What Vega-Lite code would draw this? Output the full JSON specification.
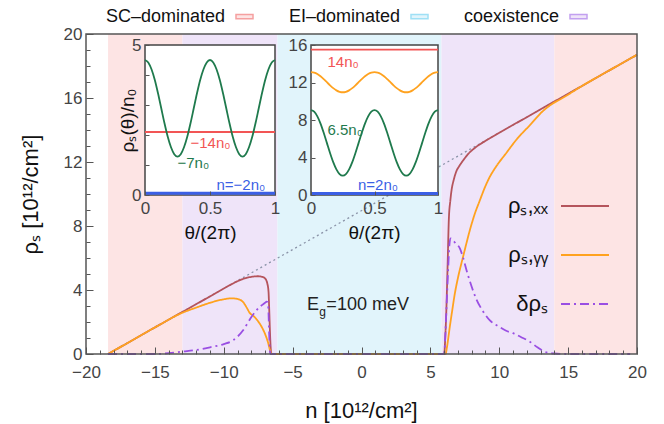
{
  "$schema": "https://vega.github.io/schema/vega-lite/v6.json",
  "width": 551,
  "height": 320,
  "autosize": {"type": "none"},
  "padding": {"left": 86, "top": 34, "right": 27, "bottom": 70},
  "background": "white",
  "config": {
    "font": "Liberation Sans",
    "view": {"stroke": null},
    "axis": {"labelColor": "#444", "tickColor": "#555", "tickWidth": 1, "titleColor": "#111", "titleFontWeight": "normal", "grid": false, "domain": false, "labelFlush": false, "labelOverlap": false, "labelFont": "Liberation Sans", "titleFont": "Liberation Sans", "zindex": 1},
    "legend": {"padding": 0, "labelFont": "Liberation Sans", "labelColor": "#111"}
  },
  "datasets": {
    "phases": [
      {"phase": "SC–dominated", "n0": -18.4, "n1": -13},
      {"phase": "coexistence", "n0": -13, "n1": -6.1},
      {"phase": "EI–dominated", "n0": -6.1, "n1": 5.8},
      {"phase": "coexistence", "n0": 5.8, "n1": 14},
      {"phase": "SC–dominated", "n0": 14, "n1": 20}
    ],
    "diag": [{"n": -18.4, "rho": 0}, {"n": 20, "rho": 18.7}],
    "series": [
      {"s": "ρₛ,ₓₓ", "n": -18.4, "rho": 0}, {"s": "ρₛ,ₓₓ", "n": -17, "rho": 0.68}, {"s": "ρₛ,ₓₓ", "n": -15, "rho": 1.66}, {"s": "ρₛ,ₓₓ", "n": -13, "rho": 2.63}, {"s": "ρₛ,ₓₓ", "n": -11, "rho": 3.6}, {"s": "ρₛ,ₓₓ", "n": -10, "rho": 4.09}, {"s": "ρₛ,ₓₓ", "n": -9.5, "rho": 4.33}, {"s": "ρₛ,ₓₓ", "n": -9, "rho": 4.55}, {"s": "ρₛ,ₓₓ", "n": -8.5, "rho": 4.72}, {"s": "ρₛ,ₓₓ", "n": -8, "rho": 4.82}, {"s": "ρₛ,ₓₓ", "n": -7.5, "rho": 4.86}, {"s": "ρₛ,ₓₓ", "n": -7.2, "rho": 4.82}, {"s": "ρₛ,ₓₓ", "n": -7, "rho": 4.72}, {"s": "ρₛ,ₓₓ", "n": -6.85, "rho": 4.45}, {"s": "ρₛ,ₓₓ", "n": -6.75, "rho": 3.9}, {"s": "ρₛ,ₓₓ", "n": -6.7, "rho": 2.8}, {"s": "ρₛ,ₓₓ", "n": -6.65, "rho": 1.5}, {"s": "ρₛ,ₓₓ", "n": -6.6, "rho": 0.5}, {"s": "ρₛ,ₓₓ", "n": -6.55, "rho": 0.05}, {"s": "ρₛ,ₓₓ", "n": -6.5, "rho": 0}, {"s": "ρₛ,ₓₓ", "n": 6.0, "rho": 0}, {"s": "ρₛ,ₓₓ", "n": 6.08, "rho": 1.0}, {"s": "ρₛ,ₓₓ", "n": 6.15, "rho": 2.5}, {"s": "ρₛ,ₓₓ", "n": 6.25, "rho": 5.5}, {"s": "ρₛ,ₓₓ", "n": 6.34, "rho": 8.4}, {"s": "ρₛ,ₓₓ", "n": 6.45, "rho": 9.6}, {"s": "ρₛ,ₓₓ", "n": 6.54, "rho": 10.25}, {"s": "ρₛ,ₓₓ", "n": 6.7, "rho": 10.9}, {"s": "ρₛ,ₓₓ", "n": 6.9, "rho": 11.45}, {"s": "ρₛ,ₓₓ", "n": 7.1, "rho": 11.75}, {"s": "ρₛ,ₓₓ", "n": 7.38, "rho": 12.1}, {"s": "ρₛ,ₓₓ", "n": 7.8, "rho": 12.55}, {"s": "ρₛ,ₓₓ", "n": 8.35, "rho": 12.96}, {"s": "ρₛ,ₓₓ", "n": 9, "rho": 13.32}, {"s": "ρₛ,ₓₓ", "n": 10, "rho": 13.83}, {"s": "ρₛ,ₓₓ", "n": 12, "rho": 14.8}, {"s": "ρₛ,ₓₓ", "n": 14, "rho": 15.78}, {"s": "ρₛ,ₓₓ", "n": 16, "rho": 16.75}, {"s": "ρₛ,ₓₓ", "n": 18, "rho": 17.73}, {"s": "ρₛ,ₓₓ", "n": 20, "rho": 18.7},
      {"s": "ρₛ,ᵧᵧ", "n": -18.4, "rho": 0}, {"s": "ρₛ,ᵧᵧ", "n": -17, "rho": 0.68}, {"s": "ρₛ,ᵧᵧ", "n": -15, "rho": 1.66}, {"s": "ρₛ,ᵧᵧ", "n": -13, "rho": 2.58}, {"s": "ρₛ,ᵧᵧ", "n": -12, "rho": 2.9}, {"s": "ρₛ,ᵧᵧ", "n": -11, "rho": 3.2}, {"s": "ρₛ,ᵧᵧ", "n": -10, "rho": 3.42}, {"s": "ρₛ,ᵧᵧ", "n": -9.4, "rho": 3.48}, {"s": "ρₛ,ᵧᵧ", "n": -9, "rho": 3.44}, {"s": "ρₛ,ᵧᵧ", "n": -8.6, "rho": 3.25}, {"s": "ρₛ,ᵧᵧ", "n": -8.3, "rho": 2.85}, {"s": "ρₛ,ᵧᵧ", "n": -8.1, "rho": 2.55}, {"s": "ρₛ,ᵧᵧ", "n": -7.95, "rho": 2.45}, {"s": "ρₛ,ᵧᵧ", "n": -7.6, "rho": 2.15}, {"s": "ρₛ,ᵧᵧ", "n": -7.25, "rho": 1.7}, {"s": "ρₛ,ᵧᵧ", "n": -7.0, "rho": 1.25}, {"s": "ρₛ,ᵧᵧ", "n": -6.77, "rho": 0.67}, {"s": "ρₛ,ᵧᵧ", "n": -6.65, "rho": 0.25}, {"s": "ρₛ,ᵧᵧ", "n": -6.55, "rho": 0}, {"s": "ρₛ,ᵧᵧ", "n": 6.1, "rho": 0}, {"s": "ρₛ,ᵧᵧ", "n": 6.2, "rho": 0.4}, {"s": "ρₛ,ᵧᵧ", "n": 6.3, "rho": 1.0}, {"s": "ρₛ,ᵧᵧ", "n": 6.41, "rho": 1.7}, {"s": "ρₛ,ᵧᵧ", "n": 6.6, "rho": 2.8}, {"s": "ρₛ,ᵧᵧ", "n": 6.78, "rho": 3.8}, {"s": "ρₛ,ᵧᵧ", "n": 7.0, "rho": 4.75}, {"s": "ρₛ,ᵧᵧ", "n": 7.38, "rho": 6.1}, {"s": "ρₛ,ᵧᵧ", "n": 7.87, "rho": 7.75}, {"s": "ρₛ,ᵧᵧ", "n": 8.2, "rho": 8.7}, {"s": "ρₛ,ᵧᵧ", "n": 8.59, "rho": 9.6}, {"s": "ρₛ,ᵧᵧ", "n": 9.0, "rho": 10.5}, {"s": "ρₛ,ᵧᵧ", "n": 9.3, "rho": 11.05}, {"s": "ρₛ,ᵧᵧ", "n": 9.8, "rho": 11.75}, {"s": "ρₛ,ᵧᵧ", "n": 10.5, "rho": 12.55}, {"s": "ρₛ,ᵧᵧ", "n": 11.25, "rho": 13.4}, {"s": "ρₛ,ᵧᵧ", "n": 12.22, "rho": 14.3}, {"s": "ρₛ,ᵧᵧ", "n": 13.19, "rho": 15.2}, {"s": "ρₛ,ᵧᵧ", "n": 13.91, "rho": 15.67}, {"s": "ρₛ,ᵧᵧ", "n": 14.5, "rho": 15.95}, {"s": "ρₛ,ᵧᵧ", "n": 16, "rho": 16.75}, {"s": "ρₛ,ᵧᵧ", "n": 18, "rho": 17.73}, {"s": "ρₛ,ᵧᵧ", "n": 20, "rho": 18.7},
      {"s": "δρₛ", "n": -18.4, "rho": 0}, {"s": "δρₛ", "n": -15, "rho": 0}, {"s": "δρₛ", "n": -14, "rho": 0.05}, {"s": "δρₛ", "n": -13, "rho": 0.15}, {"s": "δρₛ", "n": -12, "rho": 0.25}, {"s": "δρₛ", "n": -11, "rho": 0.42}, {"s": "δρₛ", "n": -10, "rho": 0.62}, {"s": "δρₛ", "n": -9.3, "rho": 0.87}, {"s": "δρₛ", "n": -8.58, "rho": 1.5}, {"s": "δρₛ", "n": -7.98, "rho": 2.33}, {"s": "δρₛ", "n": -7.37, "rho": 2.96}, {"s": "δρₛ", "n": -7.0, "rho": 3.2}, {"s": "δρₛ", "n": -6.89, "rho": 3.27}, {"s": "δρₛ", "n": -6.8, "rho": 3.25}, {"s": "δρₛ", "n": -6.75, "rho": 2.6}, {"s": "δρₛ", "n": -6.7, "rho": 1.2}, {"s": "δρₛ", "n": -6.65, "rho": 0.2}, {"s": "δρₛ", "n": -6.6, "rho": 0}, {"s": "δρₛ", "n": 6.0, "rho": 0}, {"s": "δρₛ", "n": 6.1, "rho": 1.5}, {"s": "δρₛ", "n": 6.2, "rho": 3.5}, {"s": "δρₛ", "n": 6.3, "rho": 5.5}, {"s": "δρₛ", "n": 6.38, "rho": 6.8}, {"s": "δρₛ", "n": 6.46, "rho": 7.23}, {"s": "δρₛ", "n": 6.6, "rho": 7.15}, {"s": "δρₛ", "n": 6.8, "rho": 6.95}, {"s": "δρₛ", "n": 7.14, "rho": 6.6}, {"s": "δρₛ", "n": 7.4, "rho": 5.95}, {"s": "δρₛ", "n": 7.62, "rho": 5.25}, {"s": "δρₛ", "n": 8.0, "rho": 4.2}, {"s": "δρₛ", "n": 8.35, "rho": 3.4}, {"s": "δρₛ", "n": 8.8, "rho": 2.7}, {"s": "δρₛ", "n": 9.32, "rho": 2.1}, {"s": "δρₛ", "n": 10, "rho": 1.7}, {"s": "δρₛ", "n": 10.5, "rho": 1.45}, {"s": "δρₛ", "n": 11, "rho": 1.3}, {"s": "δρₛ", "n": 11.6, "rho": 1.05}, {"s": "δρₛ", "n": 12.22, "rho": 0.77}, {"s": "δρₛ", "n": 12.8, "rho": 0.4}, {"s": "δρₛ", "n": 13.3, "rho": 0.14}, {"s": "δρₛ", "n": 14, "rho": 0.03}, {"s": "δρₛ", "n": 15, "rho": 0}, {"s": "δρₛ", "n": 19.5, "rho": 0}
    ],
    "in1": [
      {"c": "red", "t": 0, "v": 2.1}, {"c": "red", "t": 1, "v": 2.1},
      {"c": "blue", "t": 0, "v": 0.06}, {"c": "blue", "t": 1, "v": 0.06},
      {"c": "green", "t": 0, "v": 4.5}, {"c": "green", "t": 0.025, "v": 4.42}, {"c": "green", "t": 0.05, "v": 4.19}, {"c": "green", "t": 0.075, "v": 3.84}, {"c": "green", "t": 0.1, "v": 3.39}, {"c": "green", "t": 0.125, "v": 2.89}, {"c": "green", "t": 0.15, "v": 2.39}, {"c": "green", "t": 0.175, "v": 1.94}, {"c": "green", "t": 0.2, "v": 1.59}, {"c": "green", "t": 0.225, "v": 1.36}, {"c": "green", "t": 0.25, "v": 1.28}, {"c": "green", "t": 0.275, "v": 1.36}, {"c": "green", "t": 0.3, "v": 1.59}, {"c": "green", "t": 0.325, "v": 1.94}, {"c": "green", "t": 0.35, "v": 2.39}, {"c": "green", "t": 0.375, "v": 2.89}, {"c": "green", "t": 0.4, "v": 3.39}, {"c": "green", "t": 0.425, "v": 3.84}, {"c": "green", "t": 0.45, "v": 4.19}, {"c": "green", "t": 0.475, "v": 4.42}, {"c": "green", "t": 0.5, "v": 4.5}, {"c": "green", "t": 0.525, "v": 4.42}, {"c": "green", "t": 0.55, "v": 4.19}, {"c": "green", "t": 0.575, "v": 3.84}, {"c": "green", "t": 0.6, "v": 3.39}, {"c": "green", "t": 0.625, "v": 2.89}, {"c": "green", "t": 0.65, "v": 2.39}, {"c": "green", "t": 0.675, "v": 1.94}, {"c": "green", "t": 0.7, "v": 1.59}, {"c": "green", "t": 0.725, "v": 1.36}, {"c": "green", "t": 0.75, "v": 1.28}, {"c": "green", "t": 0.775, "v": 1.36}, {"c": "green", "t": 0.8, "v": 1.59}, {"c": "green", "t": 0.825, "v": 1.94}, {"c": "green", "t": 0.85, "v": 2.39}, {"c": "green", "t": 0.875, "v": 2.89}, {"c": "green", "t": 0.9, "v": 3.39}, {"c": "green", "t": 0.925, "v": 3.84}, {"c": "green", "t": 0.95, "v": 4.19}, {"c": "green", "t": 0.975, "v": 4.42}, {"c": "green", "t": 1, "v": 4.5}
    ],
    "in2": [
      {"c": "red", "t": 0, "v": 15.5}, {"c": "red", "t": 1, "v": 15.5},
      {"c": "blue", "t": 0, "v": 0.15}, {"c": "blue", "t": 1, "v": 0.15},
      {"c": "green", "t": 0, "v": 9.06}, {"c": "green", "t": 0.025, "v": 8.89}, {"c": "green", "t": 0.05, "v": 8.39}, {"c": "green", "t": 0.075, "v": 7.62}, {"c": "green", "t": 0.1, "v": 6.64}, {"c": "green", "t": 0.125, "v": 5.56}, {"c": "green", "t": 0.15, "v": 4.48}, {"c": "green", "t": 0.175, "v": 3.5}, {"c": "green", "t": 0.2, "v": 2.73}, {"c": "green", "t": 0.225, "v": 2.23}, {"c": "green", "t": 0.25, "v": 2.06}, {"c": "green", "t": 0.275, "v": 2.23}, {"c": "green", "t": 0.3, "v": 2.73}, {"c": "green", "t": 0.325, "v": 3.5}, {"c": "green", "t": 0.35, "v": 4.48}, {"c": "green", "t": 0.375, "v": 5.56}, {"c": "green", "t": 0.4, "v": 6.64}, {"c": "green", "t": 0.425, "v": 7.62}, {"c": "green", "t": 0.45, "v": 8.39}, {"c": "green", "t": 0.475, "v": 8.89}, {"c": "green", "t": 0.5, "v": 9.06}, {"c": "green", "t": 0.525, "v": 8.89}, {"c": "green", "t": 0.55, "v": 8.39}, {"c": "green", "t": 0.575, "v": 7.62}, {"c": "green", "t": 0.6, "v": 6.64}, {"c": "green", "t": 0.625, "v": 5.56}, {"c": "green", "t": 0.65, "v": 4.48}, {"c": "green", "t": 0.675, "v": 3.5}, {"c": "green", "t": 0.7, "v": 2.73}, {"c": "green", "t": 0.725, "v": 2.23}, {"c": "green", "t": 0.75, "v": 2.06}, {"c": "green", "t": 0.775, "v": 2.23}, {"c": "green", "t": 0.8, "v": 2.73}, {"c": "green", "t": 0.825, "v": 3.5}, {"c": "green", "t": 0.85, "v": 4.48}, {"c": "green", "t": 0.875, "v": 5.56}, {"c": "green", "t": 0.9, "v": 6.64}, {"c": "green", "t": 0.925, "v": 7.62}, {"c": "green", "t": 0.95, "v": 8.39}, {"c": "green", "t": 0.975, "v": 8.89}, {"c": "green", "t": 1, "v": 9.06},
      {"c": "orange", "t": 0, "v": 13.1}, {"c": "orange", "t": 0.025, "v": 13.05}, {"c": "orange", "t": 0.05, "v": 12.9}, {"c": "orange", "t": 0.075, "v": 12.66}, {"c": "orange", "t": 0.1, "v": 12.36}, {"c": "orange", "t": 0.125, "v": 12.03}, {"c": "orange", "t": 0.15, "v": 11.7}, {"c": "orange", "t": 0.175, "v": 11.4}, {"c": "orange", "t": 0.2, "v": 11.16}, {"c": "orange", "t": 0.225, "v": 11.01}, {"c": "orange", "t": 0.25, "v": 10.96}, {"c": "orange", "t": 0.275, "v": 11.01}, {"c": "orange", "t": 0.3, "v": 11.16}, {"c": "orange", "t": 0.325, "v": 11.4}, {"c": "orange", "t": 0.35, "v": 11.7}, {"c": "orange", "t": 0.375, "v": 12.03}, {"c": "orange", "t": 0.4, "v": 12.36}, {"c": "orange", "t": 0.425, "v": 12.66}, {"c": "orange", "t": 0.45, "v": 12.9}, {"c": "orange", "t": 0.475, "v": 13.05}, {"c": "orange", "t": 0.5, "v": 13.1}, {"c": "orange", "t": 0.525, "v": 13.05}, {"c": "orange", "t": 0.55, "v": 12.9}, {"c": "orange", "t": 0.575, "v": 12.66}, {"c": "orange", "t": 0.6, "v": 12.36}, {"c": "orange", "t": 0.625, "v": 12.03}, {"c": "orange", "t": 0.65, "v": 11.7}, {"c": "orange", "t": 0.675, "v": 11.4}, {"c": "orange", "t": 0.7, "v": 11.16}, {"c": "orange", "t": 0.725, "v": 11.01}, {"c": "orange", "t": 0.75, "v": 10.96}, {"c": "orange", "t": 0.775, "v": 11.01}, {"c": "orange", "t": 0.8, "v": 11.16}, {"c": "orange", "t": 0.825, "v": 11.4}, {"c": "orange", "t": 0.85, "v": 11.7}, {"c": "orange", "t": 0.875, "v": 12.03}, {"c": "orange", "t": 0.9, "v": 12.36}, {"c": "orange", "t": 0.925, "v": 12.66}, {"c": "orange", "t": 0.95, "v": 12.9}, {"c": "orange", "t": 0.975, "v": 13.05}, {"c": "orange", "t": 1, "v": 13.1}
    ]
  },
  "layer": [
    {
      "resolve": {"axis": {"x": "independent", "y": "independent"}},
      "layer": [
        {
          "data": {"name": "phases"},
          "mark": {"type": "rect", "strokeWidth": 0},
          "encoding": {
            "x": {"field": "n0", "type": "quantitative", "scale": {"domain": [-20, 20], "nice": false, "zero": false},
              "axis": {"orient": "bottom", "zindex": 1, "values": [-20, -15, -10, -5, 0, 5, 10, 15, 20], "tickSize": -7, "labelPadding": 17, "labelFontSize": 17,
                "title": "n [10¹²/cm²]", "titleFontSize": 22, "titleX": 275, "titleY": 63, "titleBaseline": "alphabetic", "titleAlign": "center"}},
            "x2": {"field": "n1"},
            "fill": {"field": "phase", "type": "nominal", "scale": {"domain": ["SC–dominated", "EI–dominated", "coexistence"], "range": ["#fde4e4", "#e1f4fb", "#efe4f9"]},
              "legend": {"orient": "none", "legendX": 149, "legendY": -27, "direction": "horizontal", "title": null, "symbolType": "M-1,-0.25H1V0.25H-1Z", "symbolSize": 289, "symbolStrokeWidth": 1.5, "labelFontSize": 18, "labelAlign": "right", "labelOffset": -29, "columnPadding": 32, "gridAlign": "none"}},
            "stroke": {"field": "phase", "type": "nominal", "scale": {"domain": ["SC–dominated", "EI–dominated", "coexistence"], "range": ["#f5a0a0", "#9fe0f5", "#c2a0f0"]},
              "legend": {"orient": "none", "legendX": 149, "legendY": -27, "direction": "horizontal", "title": null, "symbolType": "M-1,-0.25H1V0.25H-1Z", "symbolSize": 289, "symbolStrokeWidth": 1.5, "labelFontSize": 18, "labelAlign": "right", "labelOffset": -29, "columnPadding": 32, "gridAlign": "none"}}
          }
        },
        {
          "data": {"name": "diag"},
          "mark": {"type": "line", "color": "#8a93a8", "strokeWidth": 1.3, "strokeDash": [2, 3]},
          "encoding": {
            "x": {"field": "n", "type": "quantitative",
              "axis": {"orient": "bottom", "zindex": 1, "values": [-19,-18,-17,-16,-14,-13,-12,-11,-9,-8,-7,-6,-4,-3,-2,-1,1,2,3,4,6,7,8,9,11,12,13,14,16,17,18,19], "labels": false, "tickSize": -4, "title": null}},
            "y": {"field": "rho", "type": "quantitative", "scale": {"domain": [0, 20], "nice": false, "zero": false},
              "axis": {"orient": "left", "zindex": 1, "values": [0, 4, 8, 12, 16, 20], "tickSize": -7, "labelPadding": 11, "labelFontSize": 17,
                "title": "ρₛ [10¹²/cm²]", "titleFontSize": 22, "titleX": -56, "titleY": 160, "titleBaseline": "middle", "titleAlign": "center", "titleAngle": -90}}
          }
        },
        {
          "data": {"name": "series"},
          "mark": {"type": "line", "strokeWidth": 1.8, "interpolate": "monotone"},
          "encoding": {
            "x": {"field": "n", "type": "quantitative", "axis": null},
            "y": {"field": "rho", "type": "quantitative",
              "axis": {"orient": "left", "zindex": 1, "values": [1,2,3,5,6,7,9,10,11,13,14,15,17,18,19], "labels": false, "tickSize": -4, "title": null}},
            "color": {"field": "s", "type": "nominal", "scale": {"domain": ["ρₛ,ₓₓ", "ρₛ,ᵧᵧ", "δρₛ"], "range": ["#b5545c", "#ffa21f", "#9a4fe3"]},
              "legend": {"orient": "none", "legendX": 474, "legendY": 147, "direction": "vertical", "title": null, "symbolType": "stroke", "symbolSize": 2304, "symbolStrokeWidth": 2, "labelFontSize": 22, "labelAlign": "right", "labelOffset": -62, "rowPadding": 13}},
            "strokeDash": {"field": "s", "type": "nominal", "scale": {"domain": ["ρₛ,ₓₓ", "ρₛ,ᵧᵧ", "δρₛ"], "range": [[1, 0], [1, 0], [9, 4, 2, 4]]},
              "legend": {"orient": "none", "legendX": 474, "legendY": 147, "direction": "vertical", "title": null, "symbolType": "stroke", "symbolSize": 2304, "symbolStrokeWidth": 2, "labelFontSize": 22, "labelAlign": "right", "labelOffset": -62, "rowPadding": 13}}
          }
        },
        {
          "data": {"values": [{}]},
          "mark": {"type": "text", "text": "E", "fontSize": 18, "align": "left", "baseline": "middle", "color": "#222"},
          "encoding": {"x": {"datum": -3.96, "type": "quantitative", "axis": null}, "y": {"datum": 3.04, "type": "quantitative", "axis": null}}
        },
        {
          "data": {"values": [{}]},
          "mark": {"type": "text", "text": "g", "fontSize": 12, "align": "left", "baseline": "middle", "color": "#222"},
          "encoding": {"x": {"datum": -3.07, "type": "quantitative", "axis": null}, "y": {"datum": 2.6, "type": "quantitative", "axis": null}}
        },
        {
          "data": {"values": [{}]},
          "mark": {"type": "text", "text": "=100 meV", "fontSize": 18, "align": "left", "baseline": "middle", "color": "#222"},
          "encoding": {"x": {"datum": -2.55, "type": "quantitative", "axis": null}, "y": {"datum": 3.04, "type": "quantitative", "axis": null}}
        },
        {
          "data": {"values": [{}]},
          "mark": {"type": "rect", "fill": null, "fillOpacity": 0, "stroke": "#555", "strokeWidth": 1.5},
          "encoding": {"x": {"datum": -20, "type": "quantitative", "axis": null}, "x2": {"datum": 20}, "y": {"datum": 0, "type": "quantitative", "axis": null}, "y2": {"datum": 20}}
        }
      ]
    },
    {
      "layer": [
        {
          "data": {"values": [{}]},
          "mark": {"type": "rect", "fill": "white", "stroke": "#444", "strokeWidth": 1.5},
          "encoding": {
            "x": {"datum": 0, "type": "quantitative", "scale": {"domain": [0, 1], "range": [59, 189], "nice": false, "zero": false},
              "axis": {"orient": "bottom", "zindex": 1, "offset": -159, "values": [0, 0.5, 1], "labelExpr": "datum.value === 0 ? '0' : datum.value === 0.5 ? '0.5' : '1'",
                "tickSize": -4, "labelPadding": 9, "labelFontSize": 17, "title": "θ/(2π)", "titleFontSize": 19, "titleX": 124, "titleY": 37, "titleBaseline": "middle", "titleAlign": "center"}},
            "x2": {"datum": 1},
            "y": {"datum": 0, "type": "quantitative", "scale": {"domain": [0, 5], "range": [161, 11], "nice": false, "zero": false},
              "axis": {"orient": "left", "zindex": 1, "offset": -59, "values": [0, 1, 2, 3, 4, 5], "labelExpr": "datum.value === 0 ? '0' : datum.value === 5 ? '5' : ''",
                "tickSize": -4, "labelPadding": 8, "labelFontSize": 17, "title": "ρₛ(θ)/n₀", "titleFontSize": 19, "titleX": -18, "titleY": 86, "titleBaseline": "middle", "titleAlign": "center", "titleAngle": -90}},
            "y2": {"datum": 5}
          }
        },
        {
          "data": {"name": "in1"}, "transform": [{"filter": "datum.c === 'red'"}],
          "mark": {"type": "line", "color": "#f25555", "strokeWidth": 1.8},
          "encoding": {"x": {"field": "t", "type": "quantitative"}, "y": {"field": "v", "type": "quantitative"}}
        },
        {
          "data": {"name": "in1"}, "transform": [{"filter": "datum.c === 'green'"}],
          "mark": {"type": "line", "color": "#1f7a4d", "strokeWidth": 1.8, "interpolate": "monotone"},
          "encoding": {"x": {"field": "t", "type": "quantitative"}, "y": {"field": "v", "type": "quantitative"}}
        },
        {
          "data": {"name": "in1"}, "transform": [{"filter": "datum.c === 'blue'"}],
          "mark": {"type": "line", "color": "#3b5fe5", "strokeWidth": 3},
          "encoding": {"x": {"field": "t", "type": "quantitative"}, "y": {"field": "v", "type": "quantitative"}}
        },
        {
          "data": {"values": [{}]},
          "mark": {"type": "text", "text": "−14n₀", "fontSize": 15, "align": "left", "baseline": "middle", "color": "#f25555"},
          "encoding": {"x": {"datum": 0.35, "type": "quantitative"}, "y": {"datum": 1.73, "type": "quantitative"}}
        },
        {
          "data": {"values": [{}]},
          "mark": {"type": "text", "text": "−7n₀", "fontSize": 15, "align": "left", "baseline": "middle", "color": "#1f7a4d"},
          "encoding": {"x": {"datum": 0.25, "type": "quantitative"}, "y": {"datum": 1.07, "type": "quantitative"}}
        },
        {
          "data": {"values": [{}]},
          "mark": {"type": "text", "text": "n=−2n₀", "fontSize": 15, "align": "left", "baseline": "middle", "color": "#3b5fe5"},
          "encoding": {"x": {"datum": 0.55, "type": "quantitative"}, "y": {"datum": 0.33, "type": "quantitative"}}
        }
      ]
    },
    {
      "layer": [
        {
          "data": {"values": [{}]},
          "mark": {"type": "rect", "fill": "white", "stroke": "#444", "strokeWidth": 1.5},
          "encoding": {
            "x": {"datum": 0, "type": "quantitative", "scale": {"domain": [0, 1], "range": [225, 352], "nice": false, "zero": false},
              "axis": {"orient": "bottom", "zindex": 1, "offset": -159, "values": [0, 0.5, 1], "labelExpr": "datum.value === 0 ? '0' : datum.value === 0.5 ? '0.5' : '1'",
                "tickSize": -4, "labelPadding": 9, "labelFontSize": 17, "title": "θ/(2π)", "titleFontSize": 19, "titleX": 288, "titleY": 37, "titleBaseline": "middle", "titleAlign": "center"}},
            "x2": {"datum": 1},
            "y": {"datum": 0, "type": "quantitative", "scale": {"domain": [0, 16], "range": [161, 11], "nice": false, "zero": false},
              "axis": {"orient": "left", "zindex": 1, "offset": -225, "values": [0, 4, 8, 12, 16],
                "tickSize": -4, "labelPadding": 8, "labelFontSize": 17, "title": null}},
            "y2": {"datum": 16}
          }
        },
        {
          "data": {"name": "in2"}, "transform": [{"filter": "datum.c === 'red'"}],
          "mark": {"type": "line", "color": "#f25555", "strokeWidth": 1.8},
          "encoding": {"x": {"field": "t", "type": "quantitative"}, "y": {"field": "v", "type": "quantitative"}}
        },
        {
          "data": {"name": "in2"}, "transform": [{"filter": "datum.c === 'orange'"}],
          "mark": {"type": "line", "color": "#ffa21f", "strokeWidth": 1.8, "interpolate": "monotone"},
          "encoding": {"x": {"field": "t", "type": "quantitative"}, "y": {"field": "v", "type": "quantitative"}}
        },
        {
          "data": {"name": "in2"}, "transform": [{"filter": "datum.c === 'green'"}],
          "mark": {"type": "line", "color": "#1f7a4d", "strokeWidth": 1.8, "interpolate": "monotone"},
          "encoding": {"x": {"field": "t", "type": "quantitative"}, "y": {"field": "v", "type": "quantitative"}}
        },
        {
          "data": {"name": "in2"}, "transform": [{"filter": "datum.c === 'blue'"}],
          "mark": {"type": "line", "color": "#3b5fe5", "strokeWidth": 3},
          "encoding": {"x": {"field": "t", "type": "quantitative"}, "y": {"field": "v", "type": "quantitative"}}
        },
        {
          "data": {"values": [{}]},
          "mark": {"type": "text", "text": "14n₀", "fontSize": 15, "align": "left", "baseline": "middle", "color": "#f25555"},
          "encoding": {"x": {"datum": 0.13, "type": "quantitative"}, "y": {"datum": 14.2, "type": "quantitative"}}
        },
        {
          "data": {"values": [{}]},
          "mark": {"type": "text", "text": "6.5n₀", "fontSize": 15, "align": "left", "baseline": "middle", "color": "#1f7a4d"},
          "encoding": {"x": {"datum": 0.13, "type": "quantitative"}, "y": {"datum": 6.93, "type": "quantitative"}}
        },
        {
          "data": {"values": [{}]},
          "mark": {"type": "text", "text": "n=2n₀", "fontSize": 15, "align": "left", "baseline": "middle", "color": "#3b5fe5"},
          "encoding": {"x": {"datum": 0.37, "type": "quantitative"}, "y": {"datum": 1.07, "type": "quantitative"}}
        }
      ]
    }
  ],
  "resolve": {"scale": {"x": "independent", "y": "independent"}, "axis": {"x": "independent", "y": "independent"}}
}
